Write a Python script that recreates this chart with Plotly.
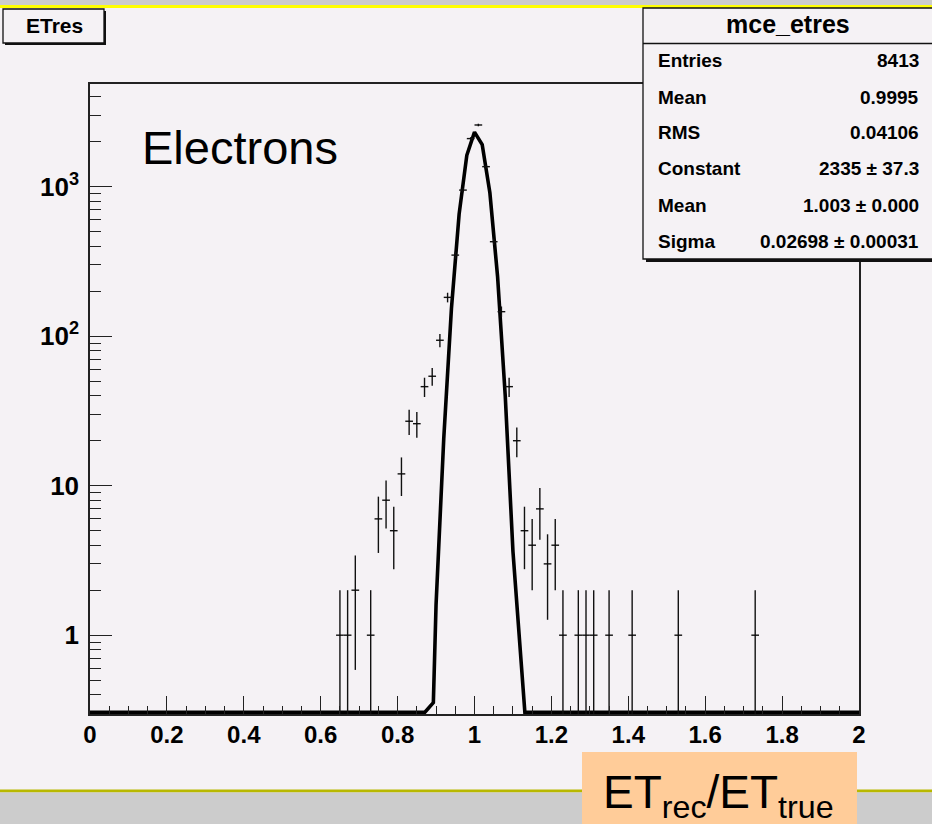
import math
import plotly.graph_objects as go

# ---------------- data ----------------
bin_width = 0.02
bin_x = [0.65, 0.67, 0.69, 0.73, 0.75, 0.77, 0.79, 0.81, 0.83, 0.85, 0.87, 0.89,
         0.91, 0.93, 0.95, 0.97, 0.99, 1.01, 1.03, 1.05, 1.07, 1.09, 1.11, 1.13,
         1.15, 1.17, 1.19, 1.21, 1.23, 1.27, 1.29, 1.31, 1.35, 1.41, 1.53, 1.73]
counts = [1, 1, 2, 1, 6, 8, 5, 12, 27, 26, 46, 54,
          94, 182, 349, 950, 2100, 2590, 1363, 429, 146, 46, 20, 5,
          4, 7, 3, 4, 1, 1, 1, 1, 1, 1, 1, 1]

# Gaussian fit curve as drawn (values at the bottom edge are where the curve is clipped)
fit_x = [0.0, 0.871, 0.893, 0.90, 0.92, 0.94, 0.96, 0.98, 1.00, 1.02, 1.04,
         1.06, 1.08, 1.10, 1.131, 2.0]
fit_y = [0.305, 0.305, 0.354, 1.6, 20.6, 153, 656, 1624, 2321, 1915, 912,
         251, 39.8, 3.64, 0.305, 0.305]

y_tick_vals = [1, 10, 100, 1000]
y_tick_text = ["1", "10", "10<sup>2</sup>", "10<sup>3</sup>"]

stats_title = "mce_etres"
stats_labels = ["Entries", "Mean", "RMS", "Constant", "Mean", "Sigma"]
stats_values = ["8413", "0.9995", "0.04106", "2335 ± 37.3", "1.003 ± 0.000",
                "0.02698 ± 0.00031"]

hist_title = "ETres"
label_text = "Electrons"
axis_title = "ET<sub>rec</sub>/ET<sub>true</sub>"

# ---------------- layout geometry ----------------
W, H = 932, 824
L, R, T, B = 90, 859, 84, 714
Y_MIN, Y_MAX = 0.297, 4870
BG = "#f5f2f5"
INK = "#111111"


def px(x):
    return (x - L) / (R - L)


def py(y):
    return (B - y) / (B - T)


err_plus = [math.sqrt(n) for n in counts]
err_minus = [min(math.sqrt(n), n - 0.1) for n in counts]

fig = go.Figure()
fig.add_trace(go.Scatter(
    x=fit_x, y=fit_y, mode="lines",
    line=dict(color="black", width=3.6), hoverinfo="skip"))
fig.add_trace(go.Scatter(
    x=bin_x, y=counts, mode="markers",
    marker=dict(size=1, color="black"),
    error_x=dict(type="constant", value=bin_width / 2, width=0, thickness=1.4, color=INK),
    error_y=dict(type="data", array=err_plus, arrayminus=err_minus, symmetric=False,
                 width=0, thickness=1.4, color=INK)))

shapes = []
# top grey band and yellow line
shapes.append(dict(type="rect", xref="paper", yref="paper", x0=px(-5), x1=px(W + 5),
                   y0=py(-5), y1=py(5), fillcolor="#cccccc", line=dict(width=0), layer="below"))
shapes.append(dict(type="rect", xref="paper", yref="paper", x0=px(-5), x1=px(W + 5),
                   y0=py(5), y1=py(8), fillcolor="#ffff00", line=dict(width=0), layer="below"))
# bottom olive line and grey band
shapes.append(dict(type="rect", xref="paper", yref="paper", x0=px(-5), x1=px(W + 5),
                   y0=py(789.5), y1=py(792.5), fillcolor="#b8b800", line=dict(width=0), layer="below"))
shapes.append(dict(type="rect", xref="paper", yref="paper", x0=px(-5), x1=px(W + 5),
                   y0=py(792.5), y1=py(H + 5), fillcolor="#cccccc", line=dict(width=0), layer="below"))
# salmon box for axis title
shapes.append(dict(type="rect", xref="paper", yref="paper", x0=px(582), x1=px(857),
                   y0=py(752), y1=py(H + 5), fillcolor="#ffcc99", line=dict(width=0), layer="above"))
# title box with shadow
shapes.append(dict(type="rect", xref="paper", yref="paper", x0=px(5), x1=px(106),
                   y0=py(11), y1=py(45), fillcolor=INK, line=dict(width=0), layer="above"))
shapes.append(dict(type="rect", xref="paper", yref="paper", x0=px(3), x1=px(104),
                   y0=py(9), y1=py(43), fillcolor=BG, line=dict(color=INK, width=1.3), layer="above"))
# stats box with shadow
shapes.append(dict(type="rect", xref="paper", yref="paper", x0=px(646), x1=px(W + 20),
                   y0=py(11), y1=py(262), fillcolor=INK, line=dict(width=0), layer="above"))
shapes.append(dict(type="rect", xref="paper", yref="paper", x0=px(643), x1=px(W + 20),
                   y0=py(8), y1=py(259), fillcolor=BG, line=dict(color=INK, width=1.3), layer="above"))
shapes.append(dict(type="line", xref="paper", yref="paper", x0=px(643), x1=px(W + 20),
                   y0=py(43.5), y1=py(43.5), line=dict(color=INK, width=1.3), layer="above"))

annotations = []
FONT_B = "Liberation Sans"
annotations.append(dict(xref="paper", yref="paper", x=px(54), y=py(25), text=hist_title,
                        showarrow=False, xanchor="center", yanchor="middle",
                        font=dict(family=FONT_B, size=21, color="black", weight="bold")))
annotations.append(dict(xref="paper", yref="paper", x=px(788), y=py(24), text=stats_title,
                        showarrow=False, xanchor="center", yanchor="middle",
                        font=dict(family=FONT_B, size=25, color="black", weight="bold")))
row_y = [61, 97, 133, 169, 205, 241]
for lab, val, yy in zip(stats_labels, stats_values, row_y):
    annotations.append(dict(xref="paper", yref="paper", x=px(656), y=py(yy), text=lab,
                            showarrow=False, xanchor="left", yanchor="middle",
                            font=dict(family=FONT_B, size=19, color="black", weight="bold")))
    annotations.append(dict(xref="paper", yref="paper", x=px(921), y=py(yy), text=val,
                            showarrow=False, xanchor="right", yanchor="middle",
                            font=dict(family=FONT_B, size=19, color="black", weight="bold")))
annotations.append(dict(xref="paper", yref="paper", x=px(140), y=py(147), text=label_text,
                        showarrow=False, xanchor="left", yanchor="middle",
                        font=dict(family="Liberation Sans", size=47, color="black")))
annotations.append(dict(xref="paper", yref="paper", x=px(601), y=py(795), text=axis_title,
                        showarrow=False, xanchor="left", yanchor="middle",
                        font=dict(family="Liberation Sans", size=46, color="black")))

fig.update_layout(
    width=W, height=H, autosize=False,
    margin=dict(l=L, r=W - R, t=T, b=H - B, pad=0),
    paper_bgcolor=BG, plot_bgcolor=BG,
    showlegend=False,
    shapes=shapes, annotations=annotations,
    xaxis=dict(
        range=[0, 2], tickmode="linear", tick0=0, dtick=0.2,
        ticks="inside", ticklen=18, tickwidth=1.2, tickcolor="#222",
        showline=True, mirror=True, linecolor="#222", linewidth=1.5,
        showgrid=False, zeroline=False,
        tickfont=dict(family="Liberation Sans", size=24, color="black", weight="bold"),
        ticklabelstandoff=-2,
        minor=dict(tickmode="linear", tick0=0, dtick=0.05, ticks="inside", ticklen=8,
                   tickwidth=1.2, tickcolor="#222", showgrid=False),
    ),
    yaxis=dict(
        type="log", range=[math.log10(Y_MIN), math.log10(Y_MAX)],
        tickmode="array", tickvals=y_tick_vals, ticktext=y_tick_text,
        ticks="inside", ticklen=22, tickwidth=1.2, tickcolor="#222",
        showline=True, mirror=True, linecolor="#222", linewidth=1.5,
        showgrid=False, zeroline=False,
        tickfont=dict(family="Liberation Sans", size=26, color="black", weight="bold"),
        ticklabelstandoff=4,
        minor=dict(dtick="D1", ticks="inside", ticklen=11, tickwidth=1.2,
                   tickcolor="#222", showgrid=False),
    ),
)

fig.write_html("out.html")
